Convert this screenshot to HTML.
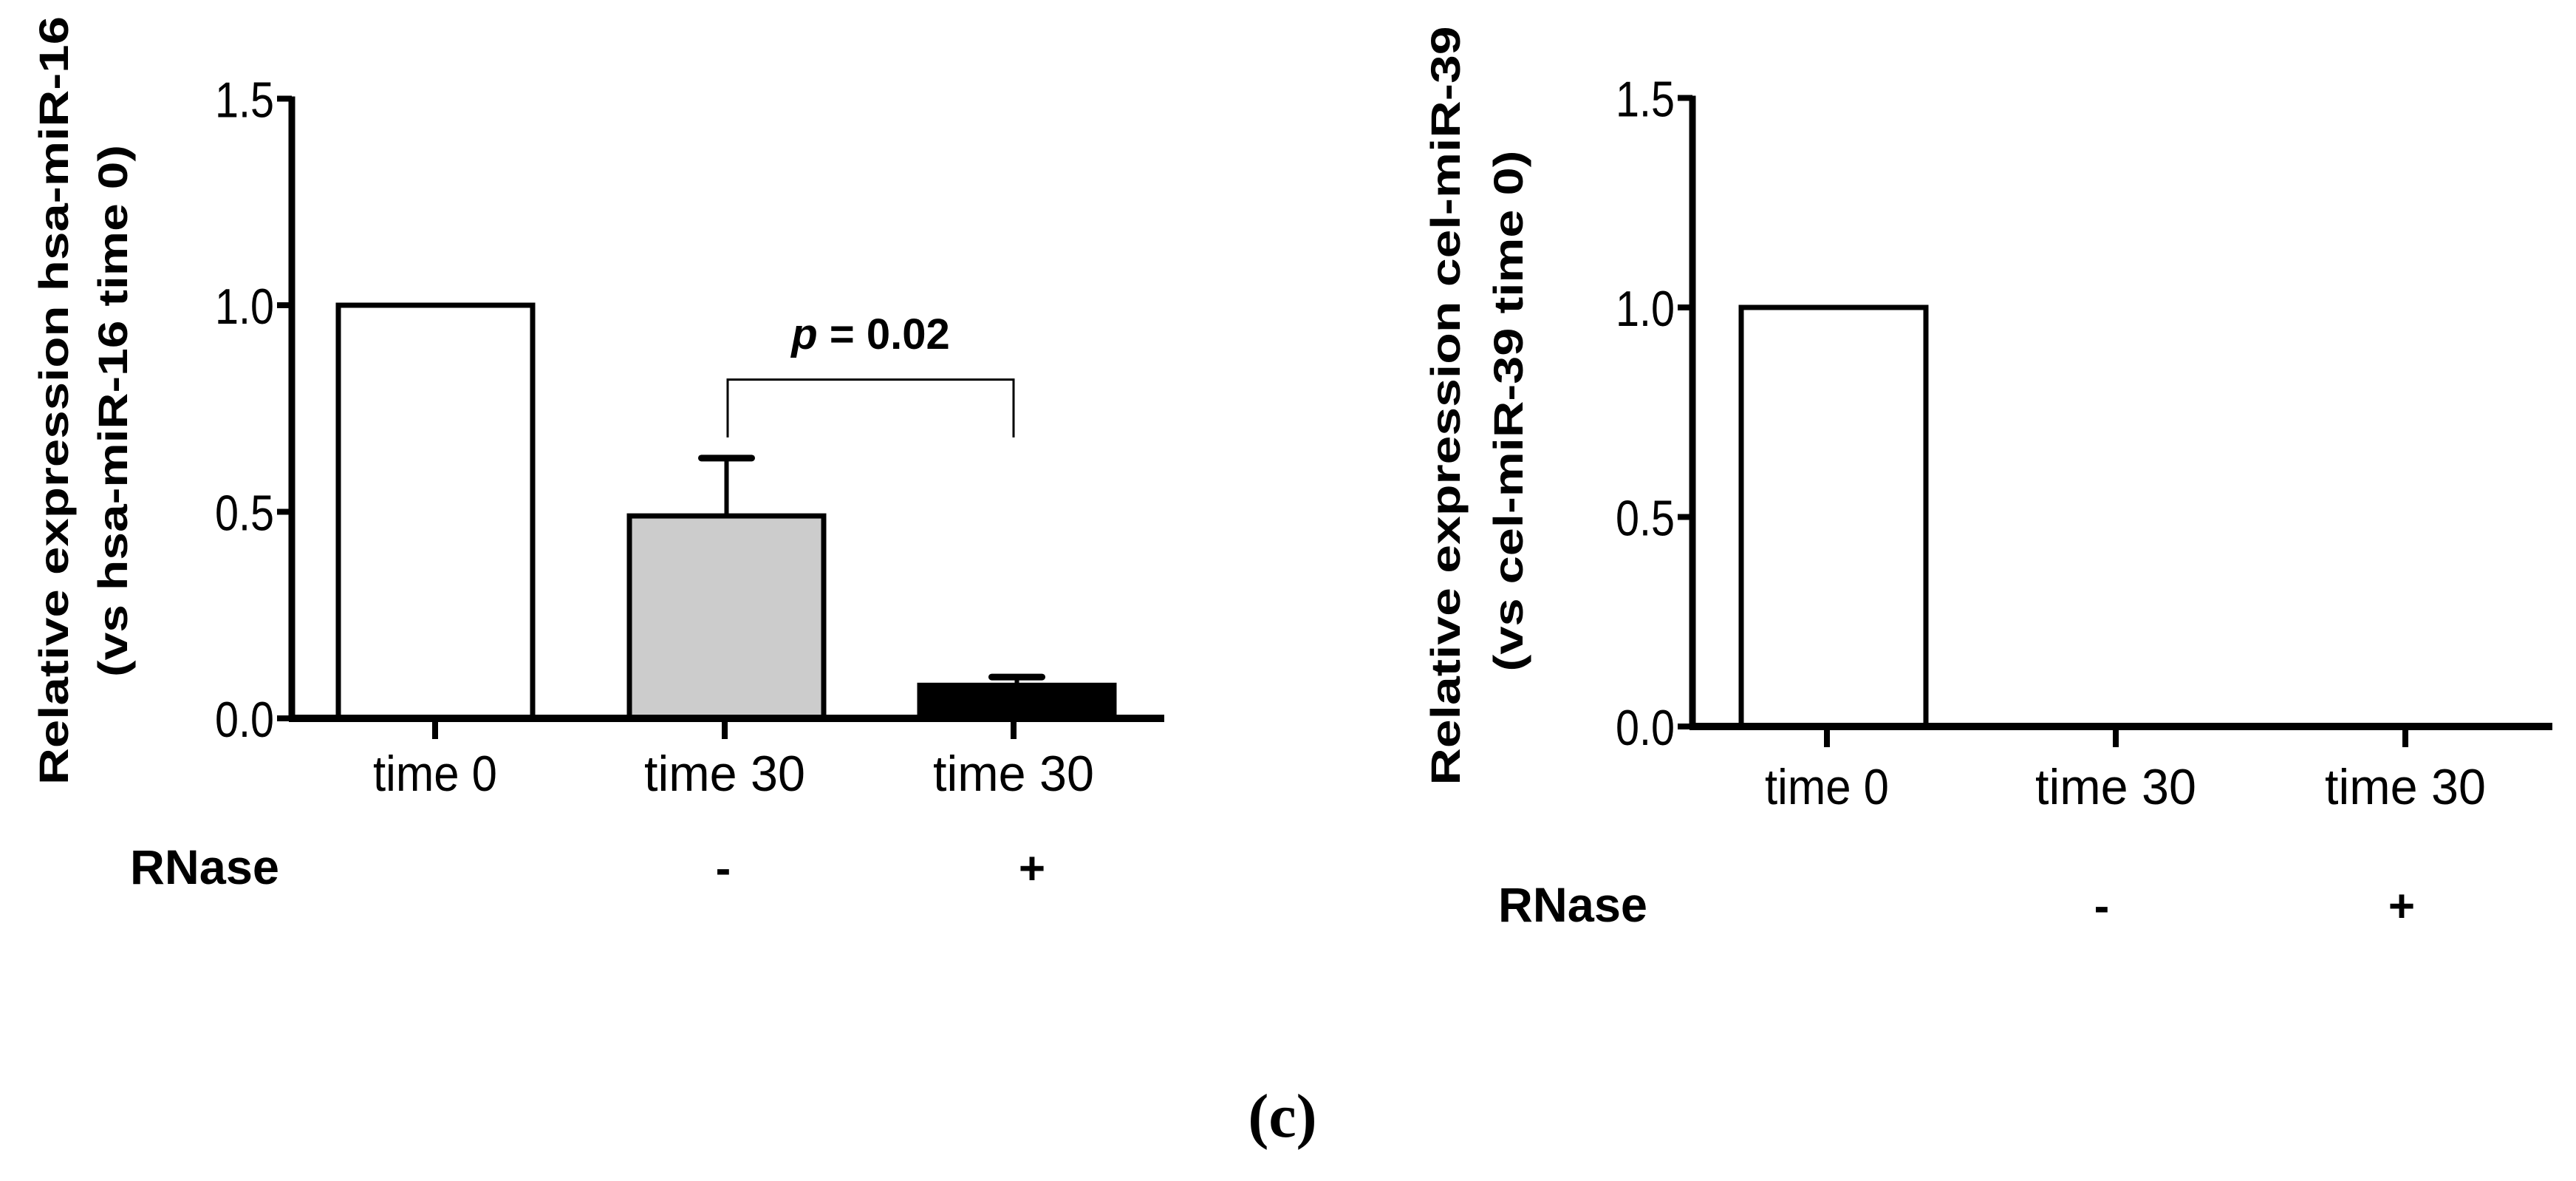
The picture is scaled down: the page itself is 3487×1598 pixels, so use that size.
<!DOCTYPE html>
<html><head><meta charset="utf-8"><style>
html,body{margin:0;padding:0;background:#fff}
svg{display:block}
text{font-family:"Liberation Sans",sans-serif;fill:#000}
</style></head><body>
<svg id="fig" width="3487" height="1598" viewBox="0 0 3487 1598" xmlns="http://www.w3.org/2000/svg">
<g id="left"></g>
<g id="right"></g>
<text x="1736" y="1538" text-anchor="middle" font-size="84" font-weight="bold" style="font-family:'Liberation Serif',serif">(c)</text>
</svg>
<script>
const categories = ["time 0","time 30","time 30"];
const rnaseLabels = ["", "-", "+"];
const yTicks = [0, 0.5, 1.0, 1.5];
const yTickLabels = ["0.0","0.5","1.0","1.5"];
const leftValues = [1.0, 0.49, 0.08];
const leftErrors = [0, 0.14, 0.02];
const rightValues = [1.0, 0, 0];
const rightErrors = [0, 0, 0];
const barFills = ["#ffffff","#cccccc","#000000"];
const pValueText = "0.02";
const bracketLevel = 0.82;
const bracketDrop = 0.68;

const NS = "http://www.w3.org/2000/svg";
function el(parent, tag, attrs){
  const e = document.createElementNS(NS, tag);
  for (const k in attrs) e.setAttribute(k, attrs[k]);
  parent.appendChild(e);
  return e;
}

function drawChart(g, cfg, values, errors, prefix){
  const y = v => cfg.y0 - v * cfg.unit;
  const bx = i => cfg.barX[i];
  values.forEach((v, i) => {
    if (v <= 0) return;
    const r = el(g, 'rect', {x: bx(i), y: y(v), width: cfg.barW, height: y(0) - y(v), fill: barFills[i], stroke: '#000', 'stroke-width': 7});
    
    
    if (errors[i] > 0) {
      const cx = bx(i) + cfg.barW / 2;
      const ln = el(g, 'line', {x1: cx, x2: cx, y1: y(v), y2: y(v + errors[i]), stroke: '#000', 'stroke-width': 6});
      
      
      const cap = el(g, 'line', {x1: cx - 34, x2: cx + 34, y1: y(v + errors[i]), y2: y(v + errors[i]), stroke: '#000', 'stroke-width': 9, 'stroke-linecap': 'round'});
      
      
    }
  });
  const ya = el(g, 'line', {x1: cfg.ax, x2: cfg.ax, y1: y(1.5) - 3, y2: y(0) + 4, stroke: '#000', 'stroke-width': 9});
  
  
  const xa = el(g, 'line', {x1: cfg.ax - 4, x2: cfg.xEnd, y1: y(0), y2: y(0), stroke: '#000', 'stroke-width': 10});
  
  
  yTicks.forEach((t, i) => {
    const tk = el(g, 'line', {x1: cfg.ax - 20, x2: cfg.ax, y1: y(t), y2: y(t), stroke: '#000', 'stroke-width': 8});
    
    
    const tl = el(g, 'text', {x: cfg.ax - 24, y: y(t) + 25, 'text-anchor': 'end', 'font-size': 68, textLength: 80, lengthAdjust: 'spacingAndGlyphs'});
    tl.textContent = yTickLabels[i];
    
    
  });
  categories.forEach((c, i) => {
    const tx = cfg.tickX[i];
    const tk = el(g, 'line', {x1: tx, x2: tx, y1: y(0), y2: y(0) + 28, stroke: '#000', 'stroke-width': 8});
    
    
    const tl = el(g, 'text', {x: tx, y: cfg.catY + 3, 'text-anchor': 'middle', 'font-size': 68, textLength: c.length > 6 ? 218 : 168, lengthAdjust: 'spacingAndGlyphs'});
    tl.textContent = c;
    
    
    if (rnaseLabels[i]) {
      const rl = el(g, 'text', {x: cfg.rnaseX[i], y: cfg.rnaseY, 'text-anchor': 'middle', 'font-size': 62, 'font-weight': 'bold'});
      rl.textContent = rnaseLabels[i];
      
      
    }
  });
  const rn = el(g, 'text', {x: cfg.rnaseLabelX, y: cfg.rnaseY, 'font-size': 66, 'font-weight': 'bold', textLength: 202, lengthAdjust: 'spacingAndGlyphs'});
  rn.textContent = 'RNase';
  
  
  const t1 = el(g, 'text', {x: 0, y: 0, 'text-anchor': 'middle', 'font-size': 56, 'font-weight': 'bold', textLength: cfg.t1Len, lengthAdjust: 'spacingAndGlyphs', transform: 'translate(' + cfg.t1X + ',' + cfg.tC + ') rotate(-90)'});
  t1.textContent = cfg.title1;
  
  
  const t2 = el(g, 'text', {x: 0, y: 0, 'text-anchor': 'middle', 'font-size': 56, 'font-weight': 'bold', textLength: cfg.t2Len, lengthAdjust: 'spacingAndGlyphs', transform: 'translate(' + cfg.t2X + ',' + cfg.tC2 + ') rotate(-90)'});
  t2.textContent = cfg.title2;
  
  
  return y;
}

const L = {y0: 972, unit: 559, ax: 395, xEnd: 1576, barX: [458, 852, 1245], barW: 263,
  tickX: [589, 981, 1372], catY: 1067, rnaseX: [0, 979, 1397], rnaseY: 1196, rnaseLabelX: 176,
  t1X: 92, t2X: 172, tC: 542, tC2: 556, t1Len: 1040, t2Len: 720,
  title1: 'Relative expression hsa-miR-16', title2: '(vs hsa-miR-16 time 0)'};
const R = {y0: 983, unit: 567, ax: 2291, xEnd: 3455, barX: [2357, 0, 0], barW: 250,
  tickX: [2473, 2864, 3256], catY: 1085, rnaseX: [0, 2845, 3251], rnaseY: 1247, rnaseLabelX: 2028,
  t1X: 1976, t2X: 2061, tC: 549, tC2: 556, t1Len: 1027, t2Len: 705,
  title1: 'Relative expression cel-miR-39', title2: '(vs cel-miR-39 time 0)'};

const gl = document.getElementById('left');
const yL = drawChart(gl, L, leftValues, leftErrors, 'left');
drawChart(document.getElementById('right'), R, rightValues, rightErrors, 'right');

const bx1 = L.tickX[1] + 4, bx2 = L.tickX[2];
const br = el(gl, 'path', {d: 'M' + bx1 + ' ' + yL(bracketDrop) + ' V' + yL(bracketLevel) + ' H' + bx2 + ' V' + yL(bracketDrop), fill: 'none', stroke: '#000', 'stroke-width': 3});


const pt = el(gl, 'text', {x: (bx1 + bx2) / 2, y: 472, 'text-anchor': 'middle', 'font-size': 58, 'font-weight': 'bold'});


const ps = el(pt, 'tspan', {'font-style': 'italic'});
ps.textContent = 'p';
const ps2 = el(pt, 'tspan', {});
ps2.textContent = ' = ' + pValueText;
</script>
</body></html>
